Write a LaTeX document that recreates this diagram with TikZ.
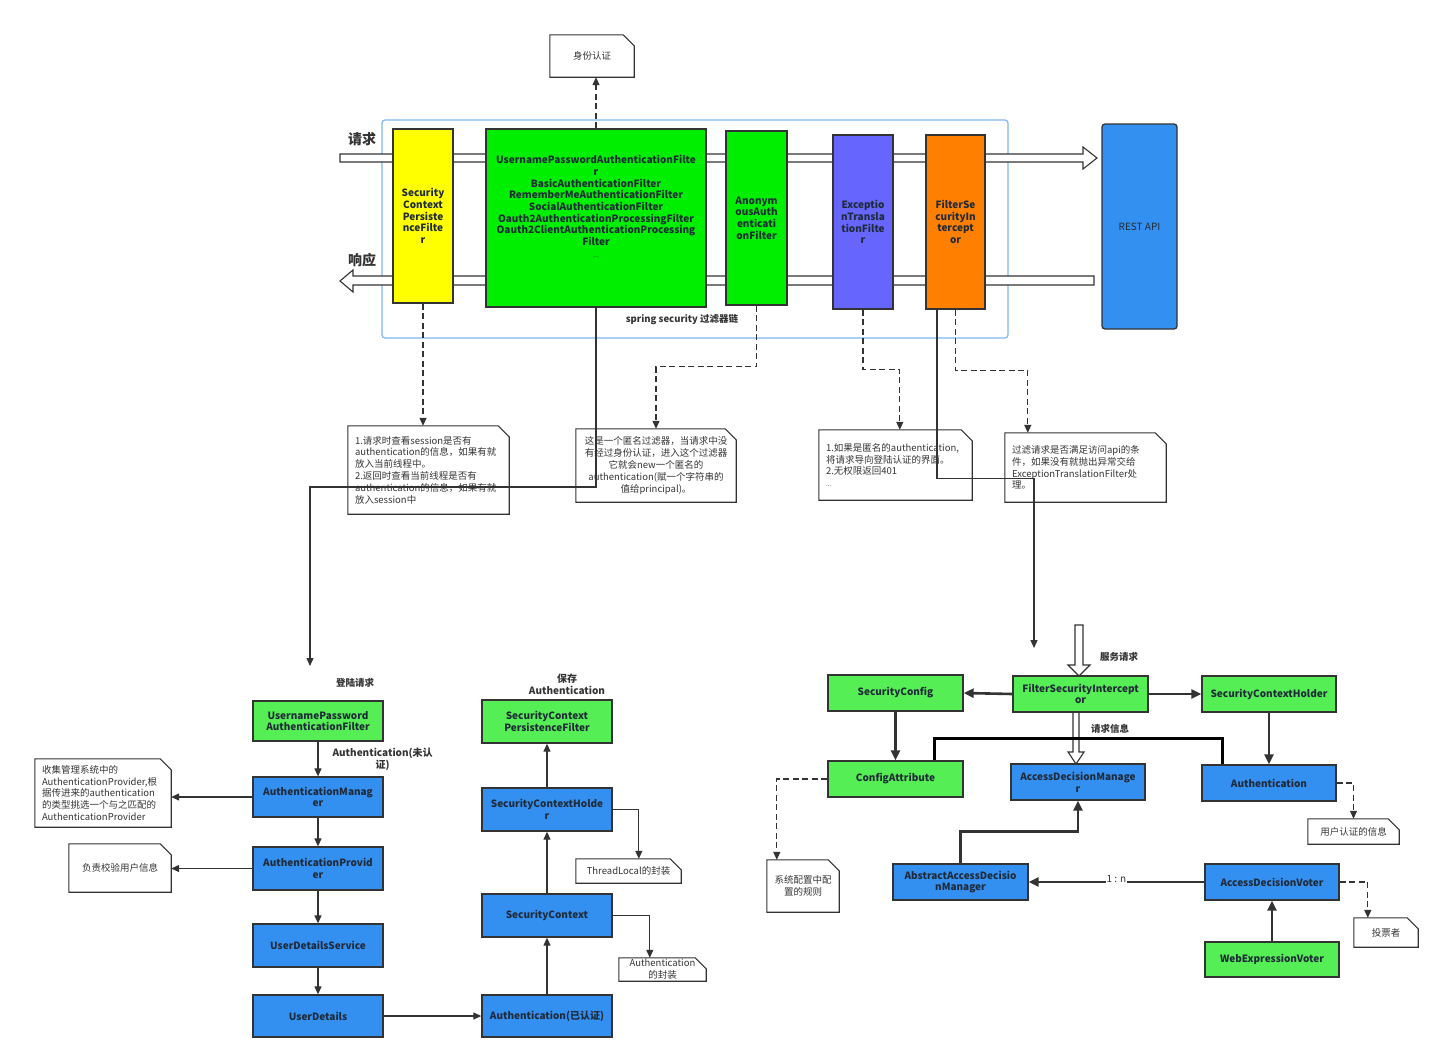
\documentclass[tikz,border=0pt]{standalone}
\usepackage{fontspec}
\setmainfont{Noto Sans CJK SC}
\usetikzlibrary{arrows.meta,calc}
\definecolor{linec}{HTML}{333333}
\definecolor{boxtext}{HTML}{1F2A38}
\definecolor{notetxt}{HTML}{333333}
\definecolor{cyellow}{HTML}{FFFF00}
\definecolor{tgreen}{HTML}{00EE00}
\definecolor{bgreen}{HTML}{55EE55}
\definecolor{cblue}{HTML}{3490F0}
\definecolor{cpurple}{HTML}{6666FF}
\definecolor{corange}{HTML}{FF8000}
\definecolor{ccont}{HTML}{7DB8EE}
\newcommand\mynote[6][]{%
  \node[notetext,minimum width=#4,minimum height=#5,#1] (#2) at #3 {#6};
  \draw[noteline] (#2.north west) -- ($(#2.north east)+(-11,0)$) -- ($(#2.north east)+(0,11)$) -- (#2.south east) -- (#2.south west) -- cycle;}
\tikzset{
  fbox/.style={draw=linec, line width=1.3pt, inner sep=0pt, align=center, text=boxtext, font=\bfseries\fontsize{10}{11.7}\selectfont},
  topbox/.style={fbox, font=\bfseries\fontsize{10}{11.7}\selectfont},
  notetext/.style={inner sep=0pt, align=center, text=notetxt, font=\fontsize{9.5}{11.8}\selectfont},
  leftnote/.style={align=left, inner xsep=7pt, text width=#1},
  noteline/.style={draw=linec, line width=1.1pt},
  arr/.style={draw=linec, line width=1.2pt, -{Triangle[length=8pt,width=7pt]}},
  darr/.style={arr, line width=1.3pt, dash pattern=on 6pt off 3.5pt},
  tarr/.style={draw=linec, line width=2.6pt, -{Triangle[length=10pt,width=9pt]}},
  plainline/.style={draw=linec, line width=1.2pt},
  heavyline/.style={draw=black, line width=3.5pt},
  hollow/.style={draw=linec, line width=1.1pt, fill=white},
  lbl/.style={font=\bfseries\fontsize{9.5}{11.5}\selectfont, text=linec, align=center, inner sep=0pt},
  biglbl/.style={font=\bfseries\fontsize{14}{16}\selectfont, text=linec, inner sep=0pt},
}
\begin{document}
\begin{tikzpicture}[x=1pt,y=-1pt]
\useasboundingbox (0,0) rectangle (1440,1060);

% ---------- filter chain ----------
\node[draw=ccont, line width=1.2pt, rounded corners=3pt, minimum width=626pt, minimum height=218pt, inner sep=0pt] (chain) at (695,229) {};
\draw[hollow] (340,154) -- (1083,154) -- (1083,147) -- (1097,158) -- (1083,169) -- (1083,162) -- (340,162) -- cycle;
\draw[hollow] (1094,276) -- (353,276) -- (353,270) -- (340,281) -- (353,292) -- (353,285) -- (1094,285) -- cycle;

\node[biglbl] (reqLbl) at (362,139) {请求};
\node[biglbl] (respLbl) at (362,260) {响应};

\node[topbox, fill=cyellow, minimum width=60pt, minimum height=174pt] (scpfTop) at (423,216) {Security\\Context\\Persiste\\nceFilte\\r};
\node[topbox, fill=tgreen, minimum width=220pt, minimum height=178pt] (authFilters) at (596,218) {UsernamePasswordAuthenticationFilte\\r\\BasicAuthenticationFilter\\RememberMeAuthenticationFilter\\SocialAuthenticationFilter\\Oauth2AuthenticationProcessingFilter\\Oauth2ClientAuthenticationProcessing\\Filter\\{\mdseries\fontsize{7}{11.7}\selectfont ...}\\~\\~};
\node[topbox, fill=tgreen, minimum width=61pt, minimum height=174pt] (anonFilter) at (756.5,218) {Anonym\\ousAuth\\enticati\\onFilter};
\node[topbox, fill=cpurple, minimum width=60pt, minimum height=174pt] (excFilter) at (863,222) {Exceptio\\nTransla\\tionFilte\\r};
\node[topbox, fill=corange, minimum width=59pt, minimum height=174pt] (fsiFilter) at (955.5,222) {FilterSe\\curityIn\\tercept\\or};
\node[draw=linec, line width=1.3pt, fill=cblue, rounded corners=3pt, minimum width=75pt, minimum height=205pt, inner sep=0pt, text=boxtext, font=\fontsize{10}{12}\selectfont] (restApi) at (1139.5,226.5) {REST API};
\node[lbl] (chainLbl) at (682,320) {spring security 过滤器链};

% ---------- notes under the chain ----------
\mynote{nId}{(592,56)}{84pt}{42pt}{身份认证}
\mynote[leftnote=147pt]{nScpf}{(428.5,470)}{161pt}{88pt}{1.请求时查看session是否有\\authentication的信息，如果有就\\放入当前线程中。\\2.返回时查看当前线程是否有\\authentication的信息，如果有就\\放入session中}
\mynote{nAnon}{(656,465.5)}{160pt}{73pt}{这是一个匿名过滤器，当请求中没\\有经过身份认证，进入这个过滤器\\它就会new一个匿名的\\authentication(赋一个字符串的\\值给principal)。}
\mynote[leftnote=139pt]{nExc}{(895.5,465)}{153pt}{70pt}{1.如果是匿名的authentication,\\将请求导向登陆认证的界面。\\2.无权限返回401\\{\fontsize{7}{11.8}\selectfont ...}}
\mynote[leftnote=147pt]{nFsi}{(1085.5,467.5)}{161pt}{69pt}{过滤请求是否满足访问api的条\\件，如果没有就抛出异常交给\\ExceptionTranslationFilter处\\理。}

\draw[darr] (authFilters.north) -- (authFilters.north |- nId.south);
\draw[darr] (scpfTop.south) -- (scpfTop.south |- nScpf.north);
\draw[darr] (anonFilter.south) -- ++(0,61) -| (nAnon.north);
\draw[darr] (excFilter.south) -- ++(0,60) -| ($(nExc.north west)+(81,0)$);
\draw[darr] (fsiFilter.south) -- ++(0,61) -| ($(nFsi.north west)+(23,0)$);

\coordinate (loginEnd) at (310,666);
\coordinate (loginTurn) at (310,487);
\draw[arr] (authFilters.south) -- (authFilters.south |- loginTurn) -| (loginEnd);
\coordinate (svcEnd) at (1034,648);
\draw[arr] ($(fsiFilter.south)+(-18.5,0)$) -- ++(0,169) -| (svcEnd);

% ---------- login flow (bottom left) ----------
\node[lbl] (loginLbl) at (355,683) {登陆请求};
\node[lbl, font=\bfseries\fontsize{10}{11.5}\selectfont] (saveLbl) at (567,684.5) {保存\\Authentication};

\node[fbox, fill=bgreen, minimum width=130pt, minimum height=40pt] (upaf) at (318,721) {UsernamePassword\\AuthenticationFilter};
\node[fbox, fill=cblue, minimum width=130pt, minimum height=40pt] (am) at (318,797) {AuthenticationManag\\er};
\node[fbox, fill=cblue, minimum width=130pt, minimum height=43pt] (ap) at (318,868.5) {AuthenticationProvid\\er};
\node[fbox, fill=cblue, minimum width=130pt, minimum height=43pt] (uds) at (318,945.5) {UserDetailsService};
\node[fbox, fill=cblue, minimum width=130pt, minimum height=42pt] (ud) at (318,1016) {UserDetails};
\node[fbox, fill=cblue, minimum width=130pt, minimum height=42pt] (authDone) at (547,1016) {Authentication(已认证)};
\node[fbox, fill=cblue, minimum width=130pt, minimum height=43pt] (sc) at (547,915.5) {SecurityContext};
\node[fbox, fill=cblue, minimum width=130pt, minimum height=43pt] (sch) at (547,809.5) {SecurityContextHolde\\r};
\node[fbox, fill=bgreen, minimum width=130pt, minimum height=43pt] (scpf) at (547,721.5) {SecurityContext\\PersistenceFilter};

\mynote[leftnote=122pt]{nMgr}{(103,793)}{136pt}{68pt}{收集管理系统中的\\AuthenticationProvider,根\\据传进来的authentication\\的类型挑选一个与之匹配的\\AuthenticationProvider}
\mynote{nProv}{(120,868)}{102pt}{48pt}{负责校验用户信息}
\mynote{nThread}{(628.5,871)}{105pt}{24pt}{ThreadLocal的封装}
\mynote{nAuthWrap}{(662.5,969.5)}{87pt}{23pt}{Authentication\\的封装}

\draw[arr] (upaf.south) -- node[lbl, font=\bfseries\fontsize{10}{11.5}\selectfont, right=14pt] (unauthLbl) {Authentication(未认\\证)} (am.north);
\draw[arr] (am.west) -- (am.west -| nMgr.east);
\draw[arr] (am.south) -- (ap.north);
\draw[arr] (ap.west) -- (ap.west -| nProv.east);
\draw[arr] (ap.south) -- (uds.north);
\draw[arr] (uds.south) -- (ud.north);
\draw[arr] (ud.east) -- (authDone.west);
\draw[arr] (authDone.north) -- (sc.south);
\draw[arr] (sc.north) -- (sch.south);
\draw[arr] (sch.north) -- (scpf.south);
\draw[arr] (sch.east) -| ($(nThread.north west)+(63,0)$);
\draw[arr] (sc.east) -| ($(nAuthWrap.north west)+(31,0)$);

% ---------- access decision (bottom right) ----------
\draw[hollow] (1075,625) -- (1075,665) -- (1068,665) -- (1079,676) -- (1090,665) -- (1083,665) -- (1083,625) -- cycle;
\draw[hollow] (1073,712) -- (1073,752) -- (1068,752) -- (1076,764) -- (1084,752) -- (1079,752) -- (1079,712) -- cycle;
\node[lbl] (svcLbl) at (1119,657) {服务请求};
\node[lbl] (infoLbl) at (1110,729) {请求信息};

\node[fbox, fill=bgreen, minimum width=135pt, minimum height=36pt] (secConfig) at (895.5,693) {SecurityConfig};
\node[fbox, fill=bgreen, minimum width=135pt, minimum height=36pt] (fsi) at (1080.5,694) {FilterSecurityIntercept\\or};
\node[fbox, fill=bgreen, minimum width=134pt, minimum height=36pt] (schR) at (1269,694) {SecurityContextHolder};
\node[fbox, fill=bgreen, minimum width=135pt, minimum height=36pt] (configAttr) at (895.5,779) {ConfigAttribute};
\node[fbox, fill=cblue, minimum width=134pt, minimum height=36pt] (adm) at (1078,782) {AccessDecisionManage\\r};
\node[fbox, fill=cblue, minimum width=134pt, minimum height=36pt] (authR) at (1269,783) {Authentication};
\node[fbox, fill=cblue, minimum width=135pt, minimum height=36pt] (aadm) at (960.5,882) {AbstractAccessDecisio\\nManager};
\node[fbox, fill=cblue, minimum width=134pt, minimum height=36pt] (adv) at (1272,882) {AccessDecisionVoter};
\node[fbox, fill=bgreen, minimum width=134pt, minimum height=35pt] (wev) at (1272,959.5) {WebExpressionVoter};

\mynote{nConfRule}{(803,886)}{72pt}{52pt}{系统配置中配\\置的规则}
\mynote{nUserInfo}{(1353.5,831.5)}{91pt}{25pt}{用户认证的信息}
\mynote{nVoter}{(1386,932.5)}{64pt}{29pt}{投票者}

\draw[tarr] (fsi.west) -- (secConfig.east);
\draw[tarr] (fsi.east) -- (schR.west);
\draw[tarr] (secConfig.south) -- (configAttr.north);
\draw[tarr] (schR.south) -- (authR.north);
\draw[heavyline] ($(configAttr.north west)+(107,0)$) -- ++(0,-22) -| ($(authR.north west)+(21,0)$);
\draw[tarr] (aadm.north) -- ++(0,-32) -| (adm.south);
\draw[tarr] (adv.west) -- node[fill=white, inner sep=1pt, text=linec, font=\fontsize{10}{12}\selectfont, yshift=3pt] (oneN) {1 : n} (aadm.east);
\draw[tarr] (wev.north) -- (adv.south);
\draw[darr] (authR.east) -| (nUserInfo.north);
\draw[darr] (configAttr.west) -| ($(nConfRule.north west)+(10,0)$);
\draw[darr] (adv.east) -| ($(nVoter.north west)+(14,0)$);
\end{tikzpicture}
\end{document}
